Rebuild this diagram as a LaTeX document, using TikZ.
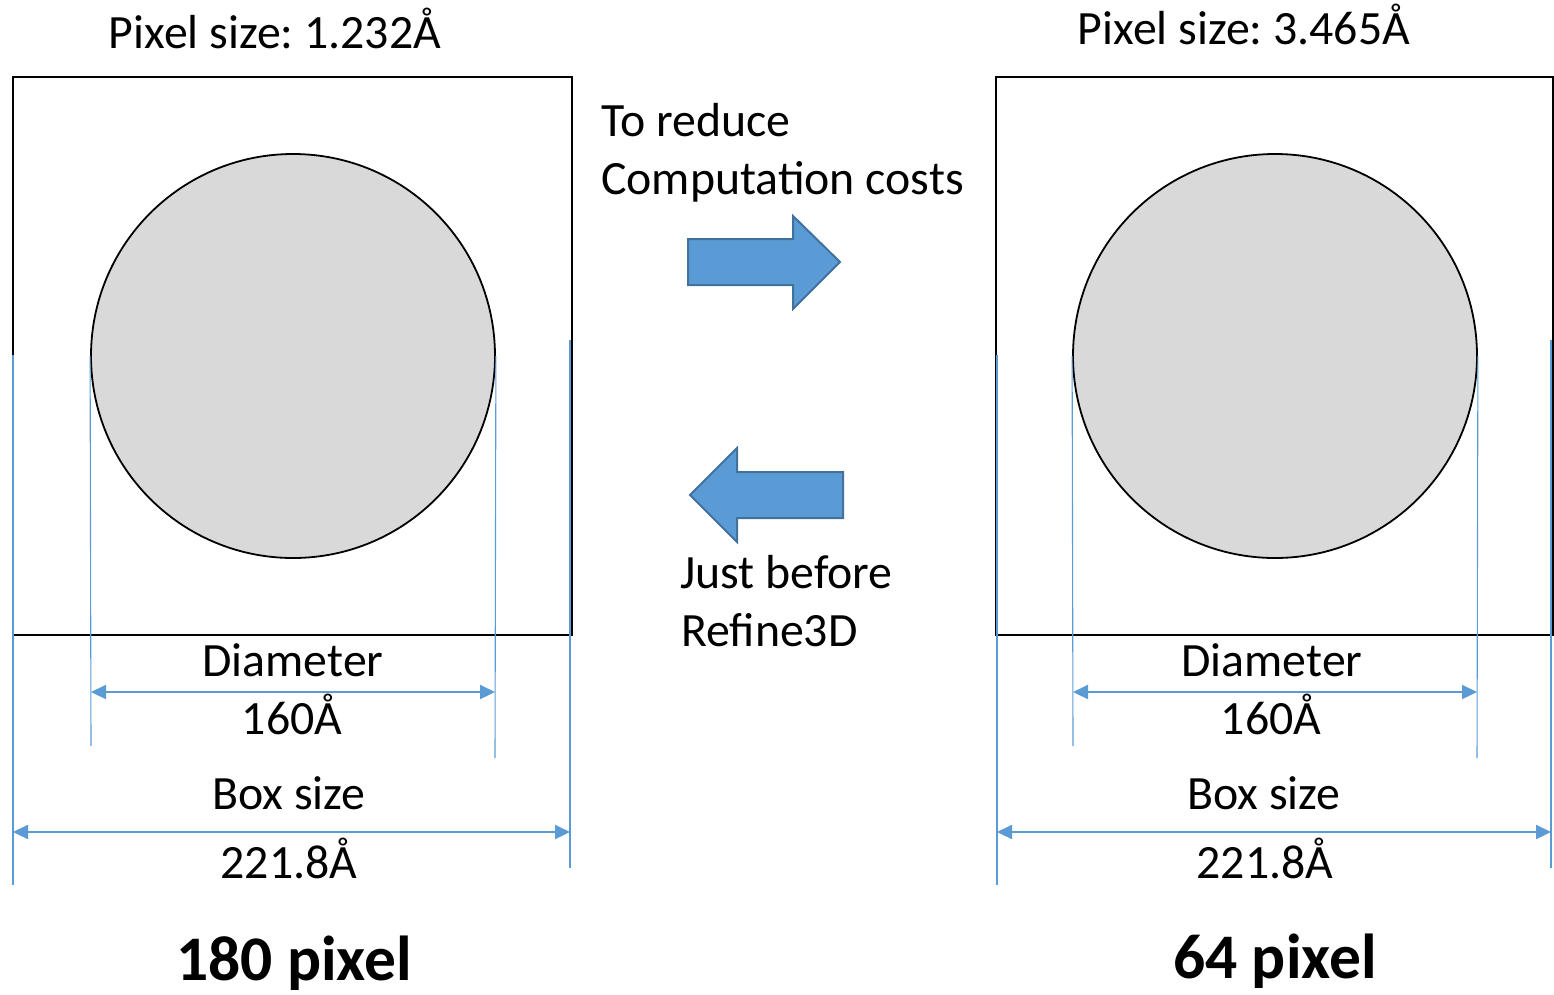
\documentclass[tikz,border=0pt]{standalone}
\usepackage{fontspec}
\setmainfont{Carlito}
\frenchspacing
\usetikzlibrary{arrows.meta}
\definecolor{dimblue}{HTML}{5B9BD5}
\definecolor{arrowedge}{HTML}{41719C}
\definecolor{spheregray}{HTML}{D9D9D9}
\tikzset{
  frame/.style={draw=black, line width=2.4pt},
  sphere/.style={draw=black, line width=1.8pt, fill=spheregray},
  extline/.style={draw=dimblue, line width=1.1pt},
  dimline/.style={draw=dimblue, line width=2.2pt, {Triangle[length=15pt,width=14pt]}-{Triangle[length=15pt,width=14pt]}},
  blockarrow/.style={fill=dimblue, draw=arrowedge, line width=2pt, line join=miter},
  lbl/.style={font=\fontsize{47.8}{56}\selectfont, inner sep=0pt, anchor=base},
  llbl/.style={lbl, anchor=base west},
  big/.style={font=\fontsize{63.5}{72}\selectfont\bfseries, inner sep=0pt, anchor=base}
}
\begin{document}
\begin{tikzpicture}[x=1pt, y=-1pt]
\useasboundingbox (0,0) rectangle (1554,994);

% ---------- left volume: 180 pixel ----------
\draw[frame] (13,77) rectangle (572,635);
\node[sphere, circle, minimum size=404pt, inner sep=0pt] (lsph) at (293,356) {};
\coordinate (lbl0) at (13,355);  \coordinate (lbl1) at (13,885);
\coordinate (lbr0) at (570,340); \coordinate (lbr1) at (570,868);
\coordinate (lcl1) at (91,746);  \coordinate (lcr1) at (495,758);
\draw[extline] (lbl0) -- (lbl1);
\draw[extline] (lbr0) -- (lbr1);
\draw[extline] (lsph.west) -- (lcl1);
\draw[extline] (lsph.east) -- (lcr1);
\coordinate (ldA) at (91,692);  \coordinate (ldB) at (495,692);
\coordinate (lbA) at (13,832);  \coordinate (lbB) at (570,832);
\draw[dimline] (ldA) -- (ldB);
\draw[dimline] (lbA) -- (lbB);
\node[lbl] (lpix) at (275,48) {Pixel size: 1.232Å};
\node[lbl] (ldia) at (293,676) {Diameter};
\node[lbl] (ldval) at (292,734) {160Å};
\node[lbl] (lbox) at (289,809) {Box size};
\node[lbl] (lbval) at (289,878) {221.8Å};
\node[big] (lsize) at (294,980) {180 pixel};

% ---------- right volume: 64 pixel ----------
\draw[frame] (996,77) rectangle (1553,635);
\node[sphere, circle, minimum size=404pt, inner sep=0pt] (rsph) at (1275,356) {};
\coordinate (rbl0) at (997,355);  \coordinate (rbl1) at (997,885);
\coordinate (rbr0) at (1551,340); \coordinate (rbr1) at (1551,868);
\coordinate (rcl1) at (1073,746); \coordinate (rcr1) at (1477,758);
\draw[extline] (rbl0) -- (rbl1);
\draw[extline] (rbr0) -- (rbr1);
\draw[extline] (rsph.west) -- (rcl1);
\draw[extline] (rsph.east) -- (rcr1);
\coordinate (rdA) at (1073,692); \coordinate (rdB) at (1477,692);
\coordinate (rbA) at (997,832);  \coordinate (rbB) at (1551,832);
\draw[dimline] (rdA) -- (rdB);
\draw[dimline] (rbA) -- (rbB);
\node[lbl] (rpix) at (1244,44) {Pixel size: 3.465Å};
\node[lbl] (rdia) at (1272,676) {Diameter};
\node[lbl] (rdval) at (1271,734) {160Å};
\node[lbl] (rbox) at (1264,809) {Box size};
\node[lbl] (rbval) at (1265,878) {221.8Å};
\node[big] (rsize) at (1275,978) {64 pixel};

% ---------- conversion arrows ----------
\draw[blockarrow] (688,239) -- (793,239) -- (793,216) -- (840,262)
  -- (793,309) -- (793,285) -- (688,285) -- cycle;
\draw[blockarrow] (843,472) -- (737,472) -- (737,448) -- (690,495)
  -- (737,542) -- (737,518) -- (843,518) -- cycle;
\node[llbl] (down1) at (601,136) {To reduce};
\node[llbl] (down2) at (601,194) {Computation costs};
\node[llbl] (up1) at (680,588) {Just before};
\node[llbl] (up2) at (681,646) {Refine3D};
\end{tikzpicture}
\end{document}
